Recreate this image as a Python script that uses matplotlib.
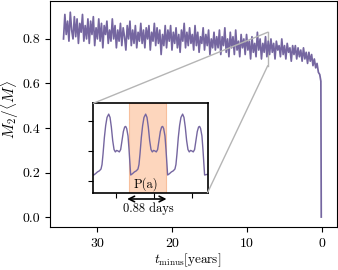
import matplotlib
matplotlib.use("Agg")
import matplotlib.pyplot as plt
import numpy as np
from matplotlib.patches import ConnectionPatch

plt.rcParams['font.family'] = 'serif'
plt.rcParams['font.serif'] = ['cmr10']
plt.rcParams['mathtext.fontset'] = 'cm'
plt.rcParams['axes.formatter.use_mathtext'] = True
plt.rcParams['font.size'] = 10

# Main series: Mdot_2 / <Mdot> versus time before merger (years).
t_start, t_end = 34.5, 0.3
mdot_ratio = [
    0.80, 0.91, 0.82, 0.88, 0.79, 0.92, 0.84, 0.80, 0.90, 0.81, 0.89, 0.78, 0.87, 0.83, 0.91, 0.79, 0.86, 0.80, 0.89,
    0.78, 0.88, 0.82, 0.90, 0.77, 0.85, 0.80, 0.89, 0.79, 0.87, 0.76, 0.86, 0.82, 0.88, 0.78, 0.84, 0.79, 0.89, 0.80,
    0.86, 0.76, 0.84, 0.79, 0.87, 0.77, 0.85, 0.81, 0.75, 0.86, 0.80, 0.88, 0.77, 0.84, 0.78, 0.86, 0.76, 0.83, 0.79,
    0.87, 0.78, 0.84, 0.76, 0.85, 0.80, 0.86, 0.75, 0.83, 0.79, 0.87, 0.77, 0.85, 0.78, 0.84, 0.73, 0.82, 0.77, 0.86,
    0.76, 0.84, 0.79, 0.86, 0.75, 0.83, 0.78, 0.85, 0.76, 0.82, 0.74, 0.84, 0.79, 0.87, 0.76, 0.83, 0.77, 0.85, 0.78,
    0.82, 0.75, 0.86, 0.77, 0.83, 0.74, 0.81, 0.78, 0.85, 0.75, 0.82, 0.77, 0.84, 0.73, 0.80, 0.76, 0.83, 0.75, 0.81,
    0.76, 0.84, 0.73, 0.81, 0.77, 0.85, 0.74, 0.80, 0.72, 0.83, 0.76, 0.81, 0.73, 0.84, 0.75, 0.79, 0.72, 0.82, 0.76,
    0.80, 0.73, 0.82, 0.75, 0.79, 0.71, 0.81, 0.74, 0.78, 0.72, 0.83, 0.75, 0.80, 0.71, 0.78, 0.74, 0.81, 0.72, 0.79,
    0.73, 0.80, 0.74, 0.78, 0.71, 0.79, 0.75, 0.77, 0.72, 0.80, 0.73, 0.77, 0.71, 0.78, 0.74, 0.76, 0.70, 0.77, 0.73,
    0.77, 0.71, 0.76, 0.72, 0.75, 0.70, 0.76, 0.71, 0.74, 0.69, 0.74, 0.70, 0.73, 0.68, 0.71, 0.67, 0.69, 0.65, 0.64,
]
t_final = [0.15, 0.10]
mdot_final = [0.61, 0.0]

# Inset: a few orbits, time in days
inset_t = [
    0.000, 0.040, 0.087, 0.135, 0.174, 0.198, 0.222, 0.254, 0.285, 0.317, 0.357, 0.389, 0.420, 0.452,
    0.484, 0.515, 0.547, 0.579, 0.610, 0.642, 0.674, 0.706, 0.737, 0.761, 0.785, 0.817, 0.841, 0.864,
    0.880, 0.920, 0.967, 1.015, 1.054, 1.078, 1.102, 1.134, 1.165, 1.197, 1.237, 1.269, 1.300, 1.332,
    1.364, 1.395, 1.427, 1.459, 1.490, 1.522, 1.554, 1.586, 1.617, 1.641, 1.665, 1.697, 1.721, 1.744,
    1.760, 1.800, 1.847, 1.895, 1.934, 1.958, 1.982, 2.014, 2.045, 2.077, 2.117, 2.149, 2.180, 2.212,
    2.244, 2.275, 2.307, 2.339, 2.370, 2.402, 2.434, 2.466, 2.497, 2.521, 2.545, 2.577, 2.601, 2.624,
    2.640, 2.700,
]
inset_val = [
    0.20, 0.24, 0.30, 0.34, 0.40, 0.55, 0.90, 1.45, 1.85, 2.12, 2.23, 2.12, 1.80, 1.35,
    1.05, 0.97, 1.02, 1.00, 0.97, 1.05, 1.35, 1.65, 1.80, 1.82, 1.75, 1.50, 1.05, 0.55,
    0.20, 0.24, 0.30, 0.34, 0.40, 0.55, 0.90, 1.45, 1.85, 2.12, 2.23, 2.12, 1.80, 1.35,
    1.05, 0.97, 1.02, 1.00, 0.97, 1.05, 1.35, 1.65, 1.80, 1.82, 1.75, 1.50, 1.05, 0.55,
    0.20, 0.24, 0.30, 0.34, 0.40, 0.55, 0.90, 1.45, 1.85, 2.12, 2.23, 2.12, 1.80, 1.35,
    1.05, 0.97, 1.02, 1.00, 0.97, 1.05, 1.35, 1.65, 1.80, 1.82, 1.75, 1.50, 1.05, 0.55,
    0.20, 0.22,
]
period_start, period_end = 0.83, 1.71
period_label = 'P(a)'
period_text = '0.88 days'
zoom_t = 7.24
zoom_lo, zoom_hi = 0.68, 0.83

purple = '#7566a0'

t_main = np.concatenate([np.linspace(t_start, t_end, len(mdot_ratio)), t_final])
y_main = np.concatenate([mdot_ratio, mdot_final])

fig = plt.figure(figsize=(3.38, 2.70), dpi=100)
ax = fig.add_axes([0.148, 0.159, 0.849, 0.837])
ax.plot(t_main, y_main, color=purple, lw=1.25, zorder=3)
ax.set_xlim(36.3, -2.0)
ax.set_ylim(-0.045, 0.97)
ax.set_xticks([30, 20, 10, 0])
ax.set_yticks([0.0, 0.2, 0.4, 0.6, 0.8])
ax.set_yticklabels(['0.0', '0.2', '0.4', '0.6', '0.8'])
ax.set_xlabel(r'$t_{\rm minus}$[years]', fontsize=9.5)
ax.xaxis.set_label_coords(0.48, -0.11)
ax.set_ylabel(r'$\dot{M}_2/\langle\dot{M}\rangle$', fontsize=11)
ax.yaxis.set_label_coords(-0.102, 0.52)

# zoom marker
ax.plot([zoom_t, zoom_t], [zoom_lo, zoom_hi], color='#b5b5b5', lw=1.0, zorder=2)

axins = fig.add_axes([0.276, 0.2863, 0.338, 0.331])
axins.axvspan(period_start, period_end, facecolor='#fdd6bd', edgecolor='#f7bf9c', lw=0.8)
axins.plot(inset_t, inset_val, color=purple, lw=1.0)
axins.set_xlim(-0.01, 2.71)
axins.set_ylim(-0.39, 2.59)
axins.set_xticks([0.53, 1.44, 2.35])
axins.set_yticks([0, 1, 2])
axins.set_xticklabels([])
axins.set_yticklabels([])
for s in axins.spines.values():
    s.set_linewidth(1.2)
axins.text(0.5 * (period_start + period_end) - 0.04, -0.11, period_label,
           ha='center', va='center', fontsize=9)
axins.annotate('', xy=(0.73, -0.60), xytext=(1.80, -0.60),
               arrowprops=dict(arrowstyle='<->', lw=1.2, color='black'),
               annotation_clip=False)
axins.text(1.30, -0.93, period_text, ha='center', va='center', fontsize=9)

for xa, xb in [((0, 1), (zoom_t, zoom_hi)), ((1, 0), (zoom_t, zoom_lo))]:
    con = ConnectionPatch(xyA=xa, coordsA=axins.transAxes, xyB=xb, coordsB=ax.transData,
                          color='#b5b5b5', lw=1.0, zorder=1)
    fig.add_artist(con)

fig.savefig('out.png', dpi=100)
